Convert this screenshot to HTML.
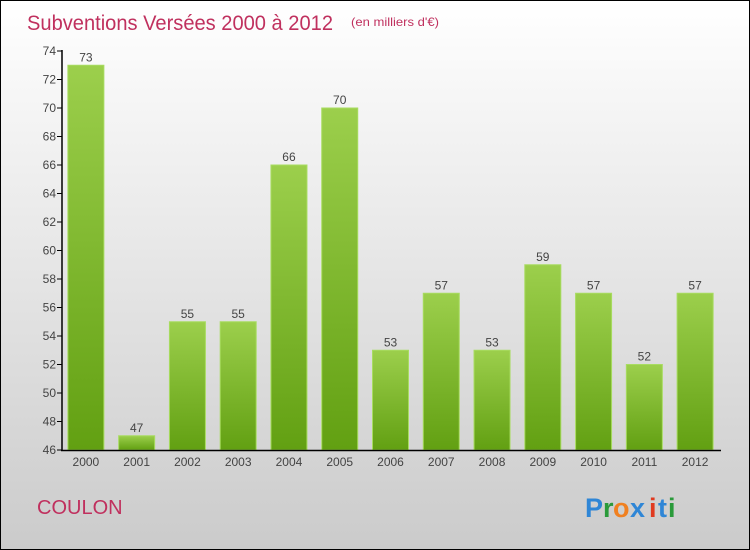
<!DOCTYPE html>
<html><head><meta charset="utf-8"><style>
body{margin:0}
#c{width:748px;height:548px;border:1px solid #000;background:linear-gradient(#ffffff,#cbcbcb);position:relative;font-family:"Liberation Sans",sans-serif}
</style></head><body>
<div id="c">
<svg id="s" width="748" height="548" style="position:absolute;left:0;top:0">
<defs>
<linearGradient id="g" x1="0" y1="0" x2="0" y2="1"><stop offset="0" stop-color="#9ccf4c"/><stop offset="1" stop-color="#62a012"/></linearGradient>
</defs>
<text x="26" y="29" font-size="21" fill="#c0305e" textLength="306" lengthAdjust="spacingAndGlyphs">Subventions Versées 2000 à 2012</text>
<text x="350" y="25" font-size="12" fill="#c0305e" textLength="88" lengthAdjust="spacingAndGlyphs">(en milliers d'€)</text>
<text x="36" y="513" font-size="20" fill="#c0305e">COULON</text>
<g font-size="27" font-weight="bold">
<text x="584" y="516" fill="#2f86d6">P</text><text x="602" y="516" fill="#2a9a3a">r</text><text x="612" y="516" fill="#f08020">o</text><text x="629" y="516" fill="#2f86d6">x</text><text x="648" y="516" fill="#e03a20">i</text><text x="657" y="516" fill="#2f86d6">t</text><text x="667" y="516" fill="#2a9a3a">i</text>
</g>
</svg>
</div>
<script>
const categories=["2000","2001","2002","2003","2004","2005","2006","2007","2008","2009","2010","2011","2012"];
const values=[73,47,55,55,66,70,53,57,53,59,57,52,57];
const yTicks=[46,48,50,52,54,56,58,60,62,64,66,68,70,72,74];
const yMin=46,yMax=74,plotTop=50,plotBot=449,plotX0=60,plotX1=720;
const ns="http://www.w3.org/2000/svg",svgEl=document.getElementById('s');
function yScale(v){return plotBot-(v-yMin)/(yMax-yMin)*(plotBot-plotTop);}
const step=(plotX1-plotX0)/categories.length;
function xc(i){return plotX0+step*(i+0.5)-0.5;}
function mk(t,a,txt){const e=document.createElementNS(ns,t);for(const k in a)e.setAttribute(k,a[k]);if(txt!=null)e.textContent=txt;svgEl.appendChild(e);return e;}
yTicks.forEach(v=>{
const t=mk('line',{x1:56,x2:61,y1:yScale(v),y2:yScale(v),stroke:'#000'});


const l=mk('text',{x:55,y:yScale(v)+4,'text-anchor':'end','font-size':12,fill:'#444'},v);


});
categories.forEach((c,i)=>{
const w=36,h=plotBot-yScale(values[i]);
const b=mk('rect',{x:xc(i)-w/2,y:yScale(values[i]),width:w,height:h,fill:'url(#g)',stroke:'#a8dc60','stroke-width':1});


const v=mk('text',{x:xc(i),y:yScale(values[i])-4,'text-anchor':'middle','font-size':12,fill:'#444'},values[i]);


const l=mk('text',{x:xc(i),y:plotBot+16,'text-anchor':'middle','font-size':12,fill:'#444'},c);


});
const ya=mk('line',{x1:61,x2:61,y1:plotTop-1,y2:plotBot+1,stroke:'#000','stroke-width':1.5});


const xa=mk('line',{x1:60,x2:plotX1,y1:plotBot+0.5,y2:plotBot+0.5,stroke:'#000','stroke-width':1.5});


</script>
</body></html>
